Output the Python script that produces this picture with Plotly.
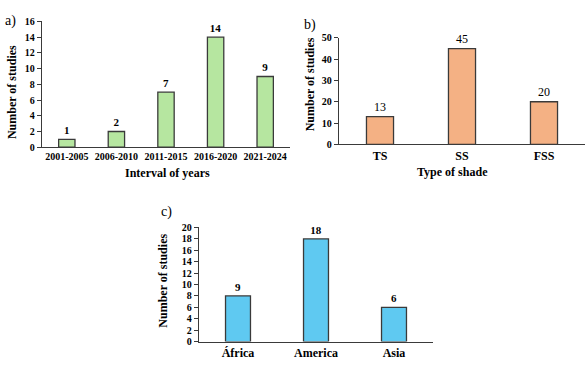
import plotly.graph_objects as go

W, H = 587, 365

years = ["2001-2005", "2006-2010", "2011-2015", "2016-2020", "2021-2024"]
years_counts = [1, 2, 7, 14, 9]

shades = ["TS", "SS", "FSS"]
shade_counts = [13, 45, 20]

regions = ["África", "America", "Asia"]
region_bar_heights = [8, 18, 6]
region_labels = ["9", "18", "6"]

FONT = "Liberation Serif, Times New Roman, serif"
LINE = "#3a3a3a"

def clamp(v):
    return max(0.0, min(1.0, v))

def px_x(x):
    return clamp(x / W)

def px_y(y):
    return clamp(1 - y / H)

fig = go.Figure()

fig.add_trace(go.Bar(x=years, y=years_counts, text=[str(v) for v in years_counts],
                     textposition="outside", cliponaxis=False,
                     textfont=dict(family=FONT, size=11, color="black", weight="bold"),
                     marker=dict(color="#b6e6a0", line=dict(color=LINE, width=1.3)),
                     width=0.33, xaxis="x", yaxis="y"))
fig.add_trace(go.Bar(x=shades, y=shade_counts, text=[str(v) for v in shade_counts],
                     textposition="outside", cliponaxis=False,
                     textfont=dict(family=FONT, size=12, color="black", weight="normal"),
                     marker=dict(color="#f4b184", line=dict(color=LINE, width=1.3)),
                     width=0.33, xaxis="x2", yaxis="y2"))
fig.add_trace(go.Bar(x=regions, y=region_bar_heights, text=region_labels,
                     textposition="outside", cliponaxis=False,
                     textfont=dict(family=FONT, size=11, color="black", weight="bold"),
                     marker=dict(color="#5fc9f1", line=dict(color=LINE, width=1.3)),
                     width=0.32, xaxis="x3", yaxis="y3"))

fig.update_traces(showlegend=False)

def xax(domain, anchor, size=10):
    return dict(domain=domain, anchor=anchor, showline=True, linecolor=LINE, linewidth=1.3,
                ticks="", showgrid=False, zeroline=False,
                tickfont=dict(family=FONT, size=size, color="black", weight="bold"))

def yax(domain, anchor, rng, dtick):
    return dict(domain=domain, anchor=anchor, range=rng, dtick=dtick, showline=True,
                linecolor=LINE, linewidth=1.3, ticks="outside", ticklen=4, tickcolor=LINE,
                showgrid=False, zeroline=False,
                tickfont=dict(family=FONT, size=10, color="black", weight="bold"))

fig.update_layout(
    width=W, height=H, margin=dict(l=0, r=0, t=0, b=0),
    paper_bgcolor="white", plot_bgcolor="white",
    xaxis=xax([px_x(42), px_x(290)], "y"),
    yaxis=yax([px_y(146), px_y(16)], "x", [0, 16], 2),
    xaxis2=xax([px_x(339), px_x(585)], "y2", 12),
    yaxis2=yax([px_y(143), px_y(33)], "x2", [0, 50], 10),
    xaxis3=xax([px_x(199), px_x(433)], "y3", 12),
    yaxis3=yax([px_y(347), px_y(229)], "x3", [0, 20], 2),
)

def ann(text, x, y, size, angle=0, bold=True):
    fig.add_annotation(text=text, x=px_x(x), y=px_y(y), xref="paper", yref="paper",
                       xanchor="center", yanchor="middle",
                       showarrow=False, textangle=angle,
                       font=dict(family=FONT, size=size, color="black",
                                 weight="bold" if bold else "normal"))

ann("Interval of years", 167, 173, 12)
ann("Number of studies", 12, 89, 12, -90)
ann("Type of shade", 452, 172, 12)
ann("Number of studies", 310, 81, 12, -90)
ann("Number of studies", 163, 284, 12, -90)

ann("a)", 10, 16, 14, bold=False)
ann("b)", 310, 20, 14, bold=False)
ann("c)", 166, 213, 14, bold=False)

fig.write_html("out.html",
               config={"displayModeBar": False},
               post_script="document.body.style.margin='0';document.body.style.overflow='hidden';")
